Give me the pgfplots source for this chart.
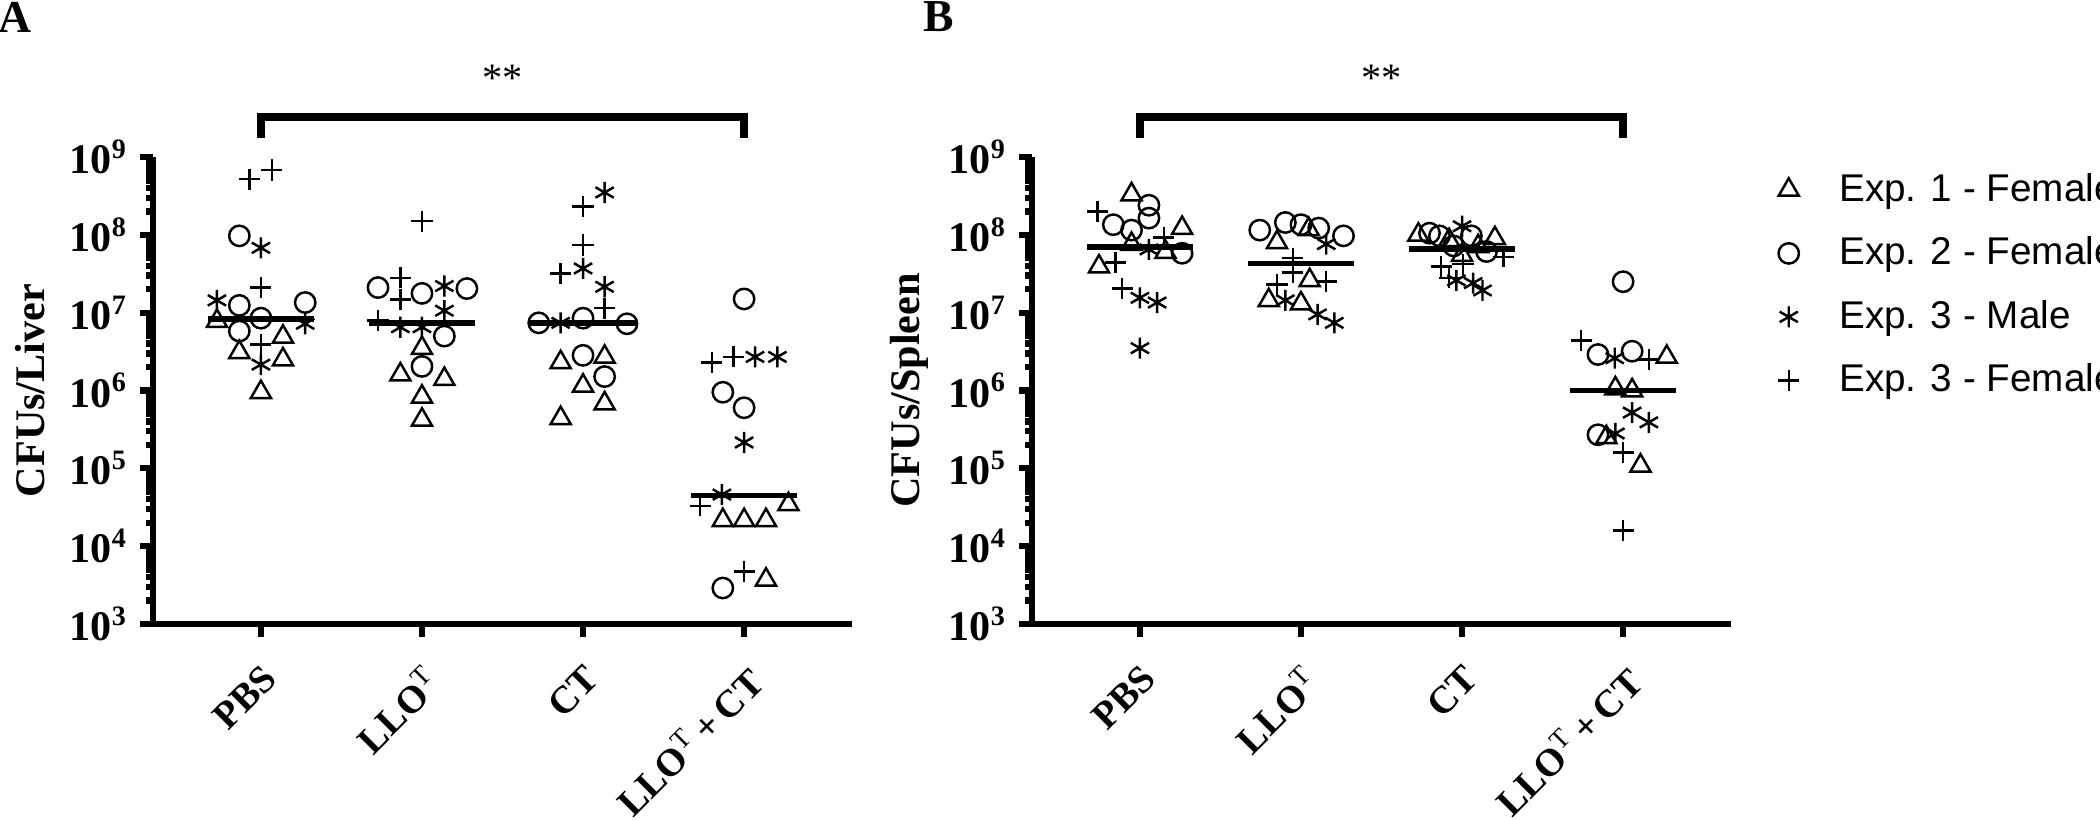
\documentclass[border=0pt]{standalone}
\usepackage{fontspec}
\setmainfont{Liberation Serif}
\newfontfamily\arial{Liberation Sans}
\usepackage{pgfplots}
\pgfplotsset{compat=1.18}

\pgfplotsset{
  every axis/.append style={
    scale only axis, width=6.99cm, height=4.67cm,
    ymin=1e3, ymax=1e9,
    xmin=-0.67, xmax=3.67,
    axis x line=bottom, axis y line=left,
    axis line style={-, line width=1.8pt},
    tick align=outside,
    major tick length=0.13cm, minor tick length=0.07cm,
    tick style={black, line width=1.8pt},
    xtick={0,1,2,3},
    xticklabels={PBS, LLO\textsuperscript{\mdseries T}, CT, LLO\textsuperscript{\mdseries T}\,+\,CT},
    xticklabel shift=0.2cm,
    xticklabel style={rotate=45, anchor=north east, inner sep=1pt, font=\bfseries\fontsize{11}{11}\selectfont},
    ytick={1e3,1e4,1e5,1e6,1e7,1e8,1e9},
    yticklabels={10\textsuperscript{3},10\textsuperscript{4},10\textsuperscript{5},10\textsuperscript{6},10\textsuperscript{7},10\textsuperscript{8},10\textsuperscript{9}},
    yticklabel style={font=\bfseries\fontsize{12}{12}\selectfont},
    ylabel style={font=\bfseries\fontsize{12}{12}\selectfont, at={(axis description cs:-0.176,0.5)}, anchor=center},
    clip=false,
  },
  exp1/.style={black, only marks, mark=triangle, mark size=3.3pt, line width=0.7pt},
  exp2/.style={black, only marks, mark=o, mark size=2.9pt, line width=0.7pt},
  exp3m/.style={black, only marks, mark=asterisk, mark size=3pt, line width=0.7pt},
  exp3f/.style={black, only marks, mark=+, mark size=3pt, line width=0.7pt},
  med/.style={black, line width=1.6pt, no marks, forget plot},
}

\begin{document}
\begin{tikzpicture}
% panel A: liver
\begin{axis}[ymode=log, anchor=south west, at={(1.53cm,1.95cm)}, ylabel={CFUs/Liver}]
\addplot[exp1] coordinates {(-0.273,7.8e6) (0.137,4.9e6) (-0.134,3.1e6) (0.137,2.5e6) (0,9.5e5)
  (1,3.5e6) (0.866,1.6e6) (1.139,1.4e6) (1,8.3e5) (1,4.2e5)
  (1.861,2.3e6) (2.134,2.7e6) (2,1.15e6) (2.134,6.8e5) (1.861,4.4e5)
  (3.275,3.45e4) (2.868,2.15e4) (3,2.15e4) (3.136,2.15e4) (3.136,3.7e3)};
\addplot[exp2] coordinates {(-0.134,9.7e7) (-0.134,1.24e7) (0.275,1.35e7) (0,8.5e6) (-0.134,5.8e6)
  (0.727,2.1e7) (1,1.77e7) (1.279,2.04e7) (1.139,5.0e6) (1,2.04e6)
  (1.725,7.4e6) (2,8.5e6) (2.273,7.2e6) (2,2.83e6) (2.134,1.51e6)
  (3,1.5e7) (2.868,9.5e5) (3,6.0e5) (2.868,2.9e3)};
\addplot[exp3m] coordinates {(0,6.8e7) (-0.273,1.44e7) (0.275,7.2e6) (0,2.15e6)
  (1.139,2.2e7) (1.139,1.06e7) (0.866,6.5e6) (1,6.5e6)
  (2.134,3.5e8) (2,3.7e7) (2.134,2.15e7) (1.861,7.4e6)
  (3.068,2.7e6) (3.207,2.7e6) (3,2.15e5) (2.862,4.6e4)};
\addplot[exp3f] coordinates {(-0.072,5.2e8) (0.068,6.8e8) (0,2.1e7) (0,3.9e6)
  (1,1.5e8) (0.866,2.8e7) (0.866,1.47e7) (0.727,7.9e6)
  (2,2.3e8) (2,7.4e7) (1.861,3.2e7) (2.134,1.14e7)
  (2.8,2.3e6) (2.934,2.7e6) (2.727,3.3e4) (3,4.7e3)};
\addplot[med] coordinates {(-0.33,8.3e6) (0.33,8.3e6)};
\addplot[med] coordinates {(0.67,7.4e6) (1.33,7.4e6)};
\addplot[med] coordinates {(1.67,7.4e6) (2.33,7.4e6)};
\addplot[med] coordinates {(2.67,4.5e4) (3.33,4.5e4)};
\draw[line width=2.2pt] (axis cs:0,1.75e9) -- (axis cs:0,3.27e9) -- (axis cs:3,3.27e9) -- (axis cs:3,1.75e9);
\node[font=\fontsize{11.5}{11.5}\selectfont] at (axis cs:1.5,1.04e10) {**};
\end{axis}
% panel B: spleen
\begin{axis}[ymode=log, anchor=south west, at={(10.32cm,1.95cm)}, ylabel={CFUs/Spleen},
  legend style={at={(axis description cs:1.0093,0.9893)}, anchor=north west, draw=none, fill=none,
    font=\arial\fontsize{11}{11}\selectfont, nodes={inner sep=1pt}, row sep=6.6pt},
  legend cell align=left,
  legend image code/.code={\path[draw=none,fill=none] (0cm,0cm) (0.87cm,0cm);
    \draw[#1] plot coordinates {(0.4cm,0cm)};}]
\addplot[exp1] coordinates {(-0.052,3.3e8) (0.262,1.22e8) (-0.052,7.6e7) (0.159,6.0e7) (-0.254,3.9e7)
  (1.048,1.18e8) (0.851,8.0e7) (1.054,2.6e7) (0.8,1.44e7) (1,1.31e7)
  (1.729,1.0e8) (2.204,9.0e7) (2,5.5e7) (1.92,8.5e7) (2.1,7.1e7)
  (3.271,2.7e6) (2.952,1.06e6) (3.056,1.0e6) (2.896,2.5e5) (3.108,1.08e5)};
\addlegendentry{Exp. 1 - Female}
\addplot[exp2] coordinates {(0.056,2.4e8) (0.056,1.64e8) (-0.165,1.35e8) (-0.052,1.15e8) (0.262,5.8e7)
  (0.744,1.15e8) (0.903,1.44e8) (1,1.35e8) (1.11,1.22e8) (1.264,9.7e7)
  (1.798,1.05e8) (1.86,9.7e7) (1.948,7.2e7) (2.058,9.7e7) (2.152,6.1e7)
  (3,2.5e7) (2.844,2.9e6) (3.056,3.2e6) (2.844,2.7e5)};
\addlegendentry{Exp. 2 - Female}
\addplot[exp3m] coordinates {(0.056,6.5e7) (0,1.55e7) (0.107,1.35e7) (0,3.5e6)
  (1.157,7.6e7) (0.903,1.44e7) (1.103,9.5e6) (1.207,7.4e6)
  (2,1.29e8) (1.965,2.6e7) (2.069,2.4e7) (2.127,1.93e7)
  (2.948,2.6e6) (3.056,5.2e5) (3.16,3.9e5) (2.952,2.8e5)};
\addlegendentry{Exp. 3 - Male}
\addplot[exp3f] coordinates {(-0.264,2.0e8) (0.149,9.3e7) (-0.151,4.4e7) (-0.11,2.04e7)
  (0.95,5.0e7) (0.95,3.3e7) (1.157,2.5e7) (0.851,2.3e7)
  (2.256,5.2e7) (1.871,3.9e7) (2.006,4.2e7) (1.92,2.8e7)
  (2.74,4.4e6) (3.16,2.5e6) (3,1.6e5) (3,1.6e4)};
\addlegendentry{Exp. 3 - Female}
\addplot[med] coordinates {(-0.33,7.0e7) (0.33,7.0e7)};
\addplot[med] coordinates {(0.67,4.3e7) (1.33,4.3e7)};
\addplot[med] coordinates {(1.67,6.6e7) (2.33,6.6e7)};
\addplot[med] coordinates {(2.67,1.0e6) (3.33,1.0e6)};
\draw[line width=2.2pt] (axis cs:0,1.75e9) -- (axis cs:0,3.27e9) -- (axis cs:3,3.27e9) -- (axis cs:3,1.75e9);
\node[font=\fontsize{11.5}{11.5}\selectfont] at (axis cs:1.5,1.04e10) {**};
\end{axis}
\node[font=\bfseries\fontsize{13}{13}\selectfont] at (0.15cm,8.02cm) {A};
\node[font=\bfseries\fontsize{13}{13}\selectfont] at (9.39cm,8.02cm) {B};
\pgfresetboundingbox
\path[use as bounding box] (0,0) rectangle (21cm,8.19cm);
\end{tikzpicture}
\end{document}
